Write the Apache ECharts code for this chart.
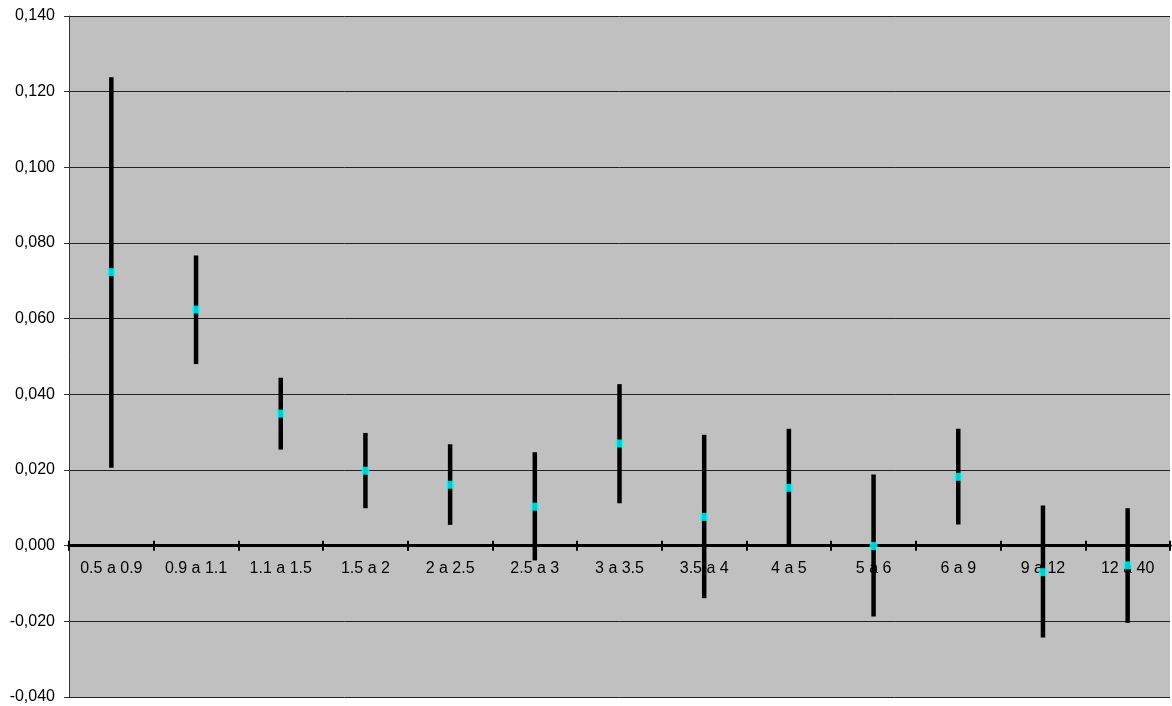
<!DOCTYPE html>
<html>
<head>
<meta charset="utf-8">
<script src="https://cdn.jsdelivr.net/npm/echarts@6/dist/echarts.min.js"></script>
<style>html,body{margin:0;padding:0;background:#fff}#c{width:1172px;height:706px}</style>
</head>
<body>
<div id="c"></div>
<script>
var categories = ['0.5 a 0.9','0.9 a 1.1','1.1 a 1.5','1.5 a 2','2 a 2.5','2.5 a 3','3 a 3.5','3.5 a 4','4 a 5','5 a 6','6 a 9','9 a 12','12 a 40'];
var centerValues = [0.0723,0.0624,0.0349,0.0198,0.0161,0.0103,0.0270,0.0076,0.0153,-0.0001,0.0182,-0.0070,-0.0052];
var lowValues    = [0.0206,0.0480,0.0254,0.0099,0.0055,-0.0039,0.0112,-0.0139,0.0000,-0.0187,0.0056,-0.0243,-0.0204];
var highValues   = [0.1238,0.0767,0.0444,0.0298,0.0268,0.0247,0.0427,0.0293,0.0309,0.0188,0.0309,0.0106,0.0099];
var yTicks = { min: -0.04, max: 0.14, step: 0.02 };

var FONT = '"Liberation Sans", Arial, sans-serif';
var GRID = { left: 69, top: 16, right: 2, bottom: 9 };
var chartH = 706;
var plotH = chartH - GRID.top - GRID.bottom;
// pixel distance from zero line to grid bottom, derived from the scale
var zeroToBottom = plotH * (0 - yTicks.min) / (yTicks.max - yTicks.min);

var chart = echarts.init(document.getElementById('c'));
var errData = categories.map(function(c,i){ return [i, lowValues[i], highValues[i]]; });
chart.setOption({
  animation: false,
  grid: { left: GRID.left, top: GRID.top, right: GRID.right, bottom: GRID.bottom, show: true, backgroundColor: '#C0C0C0', borderWidth: 0, outerBoundsMode: 'none', containLabel: false },
  xAxis: [{
    // label axis (kept at bottom, labels pulled up under the zero line)
    type: 'category', data: categories, boundaryGap: true, position: 'bottom',
    axisLine: { show: false, onZero: false },
    axisTick: { show: false },
    axisLabel: { show: true, color: '#000', fontFamily: FONT, fontSize: 16, margin: -(zeroToBottom - 15), interval: 0 },
    splitLine: { show: false }
  },{
    // zero line with upward ticks
    type: 'category', data: categories, boundaryGap: true, position: 'top',
    axisLine: { onZero: true, onZeroAxisIndex: 1, lineStyle: { color: '#000', width: 3 } },
    axisTick: { show: true, length: 5, lineStyle: { color: '#000', width: 2 } },
    axisLabel: { show: false },
    splitLine: { show: false }
  },{
    // zero line with downward ticks
    type: 'category', data: categories, boundaryGap: true, position: 'top',
    axisLine: { onZero: true, onZeroAxisIndex: 2, lineStyle: { color: '#000', width: 3 } },
    axisTick: { show: true, inside: true, length: 5, lineStyle: { color: '#000', width: 2 } },
    axisLabel: { show: false },
    splitLine: { show: false }
  }],
  yAxis: [{
    type: 'value', min: yTicks.min, max: yTicks.max, interval: yTicks.step,
    axisLine: { show: true, onZero: false, lineStyle: { color: '#333', width: 1 } },
    axisTick: { show: true, length: 5, lineStyle: { color: '#333' } },
    axisLabel: { color: '#000', fontFamily: FONT, fontSize: 16, margin: 14,
      formatter: function(v){ return v.toFixed(3).replace('.', ','); } },
    splitLine: { show: true, lineStyle: { color: '#222', width: 1 } }
  },{
    type: 'value', min: yTicks.min, max: yTicks.max, interval: yTicks.step, show: false,
    axisLine: { show: false, onZero: false }, splitLine: { show: false }
  },{
    type: 'value', min: yTicks.min, max: yTicks.max, interval: yTicks.step, show: false,
    axisLine: { show: false, onZero: false }, splitLine: { show: false }
  }],
  series: [{
    type: 'custom',
    data: errData,
    z: 3,
    renderItem: function(params, api){
      var p1 = api.coord([api.value(0), api.value(1)]);
      var p2 = api.coord([api.value(0), api.value(2)]);
      return { type: 'line', shape: { x1: p1[0], y1: p1[1], x2: p2[0], y2: p2[1] },
        style: { stroke: '#000', lineWidth: 4.5, lineCap: 'butt' } };
    },
    encode: { x: 0, y: [1,2] }
  },{
    type: 'scatter',
    data: centerValues,
    symbol: 'rect', symbolSize: 8, z: 4,
    itemStyle: { color: '#00FFFF' }
  }]
});
</script>
</body>
</html>
